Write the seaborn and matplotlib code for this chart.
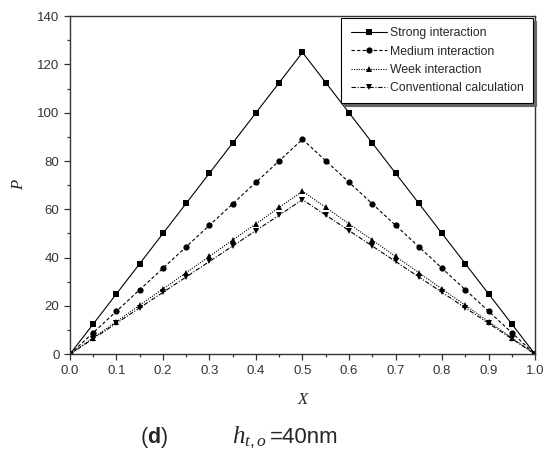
import pandas as pd
import matplotlib.pyplot as plt
import seaborn as sns
from matplotlib.ticker import MultipleLocator

# Data
x = [0.0, 0.05, 0.1, 0.15, 0.2, 0.25, 0.3, 0.35, 0.4, 0.45, 0.5,
     0.55, 0.6, 0.65, 0.7, 0.75, 0.8, 0.85, 0.9, 0.95, 1.0]
strong = [0, 12.5, 25, 37.5, 50, 62.5, 75, 87.5, 100, 112.5, 125,
          112.5, 100, 87.5, 75, 62.5, 50, 37.5, 25, 12.5, 0]
medium = [0, 8.9, 17.8, 26.7, 35.6, 44.5, 53.4, 62.3, 71.2, 80.1, 89,
          80.1, 71.2, 62.3, 53.4, 44.5, 35.6, 26.7, 17.8, 8.9, 0]
week = [0, 6.8, 13.5, 20.3, 27, 33.8, 40.5, 47.3, 54, 60.8, 67.5,
        60.8, 54, 47.3, 40.5, 33.8, 27, 20.3, 13.5, 6.8, 0]
conventional = [0, 6.4, 12.8, 19.2, 25.6, 32, 38.4, 44.8, 51.2, 57.6, 64,
                57.6, 51.2, 44.8, 38.4, 32, 25.6, 19.2, 12.8, 6.4, 0]

series = ['Strong interaction', 'Medium interaction', 'Week interaction', 'Conventional calculation']
values = [strong, medium, week, conventional]
markers = ['s', 'o', '^', 'v']
dashes = ['-', (0, (3, 2)), (0, (1, 1.2)), (0, (4, 1.5, 1, 1.5))]

sns.set_style('ticks')
plt.rcParams['font.family'] = ['Liberation Sans', 'DejaVu Sans']
plt.rcParams['mathtext.fontset'] = 'custom'
plt.rcParams['mathtext.rm'] = 'Liberation Sans'
plt.rcParams['mathtext.bf'] = 'Liberation Sans:bold'
plt.rcParams['mathtext.it'] = 'Liberation Serif:italic'

fig = plt.figure(figsize=(5.51, 4.5), dpi=100)
ax = fig.add_axes([0.127, 0.213, 0.844, 0.751])

for name, vals, m, ls in zip(series, values, markers, dashes):
    df = pd.DataFrame({'X': x, 'P': vals})
    sns.lineplot(ax=ax, data=df, x='X', y='P', color='black', linewidth=0.8,
                 linestyle=ls, marker=m, markersize=4.5, markeredgewidth=0,
                 label=name)

ax.set_xlim(0, 1.0)
ax.set_ylim(0, 140)
ax.xaxis.set_major_locator(MultipleLocator(0.1))
ax.xaxis.set_minor_locator(MultipleLocator(0.05))
ax.yaxis.set_major_locator(MultipleLocator(20))
ax.yaxis.set_minor_locator(MultipleLocator(10))
ax.set_xticklabels([f'{v:.1f}' for v in ax.get_xticks()])
ax.tick_params(which='major', length=4, width=0.9, labelsize=9.5, colors='#333333', labelcolor='#333333')
ax.tick_params(which='minor', length=2.5, width=0.9, colors='#333333')
for s in ax.spines.values():
    s.set_linewidth(1.0)
    s.set_color('#333333')

ax.set_xlabel('X', fontsize=12, fontstyle='italic', family='Liberation Serif', labelpad=11)
ax.set_ylabel('P', fontsize=12, fontstyle='italic', family='Liberation Serif', labelpad=7)

leg = ax.legend(loc='upper right', fontsize=8.8, frameon=True, fancybox=False,
                shadow={'color': '0.4', 'alpha': 1}, borderaxespad=0.15,
                handlelength=2.95, handletextpad=0.3, labelspacing=0.52, borderpad=0.75)
leg.get_frame().set_edgecolor('black')
leg.get_frame().set_linewidth(0.8)

# caption below the axes
fig.text(140 / 551, 0.016, r'($\mathbf{d}$)', ha='left', va='baseline', fontsize=15.5)
fig.text(232 / 551, 0.016, r'$h_{t,o}$', ha='left', va='baseline', fontsize=18)
fig.text(270 / 551, 0.016, '=40nm', ha='left', va='baseline', fontsize=16)

fig.savefig('out.png', dpi=100)
